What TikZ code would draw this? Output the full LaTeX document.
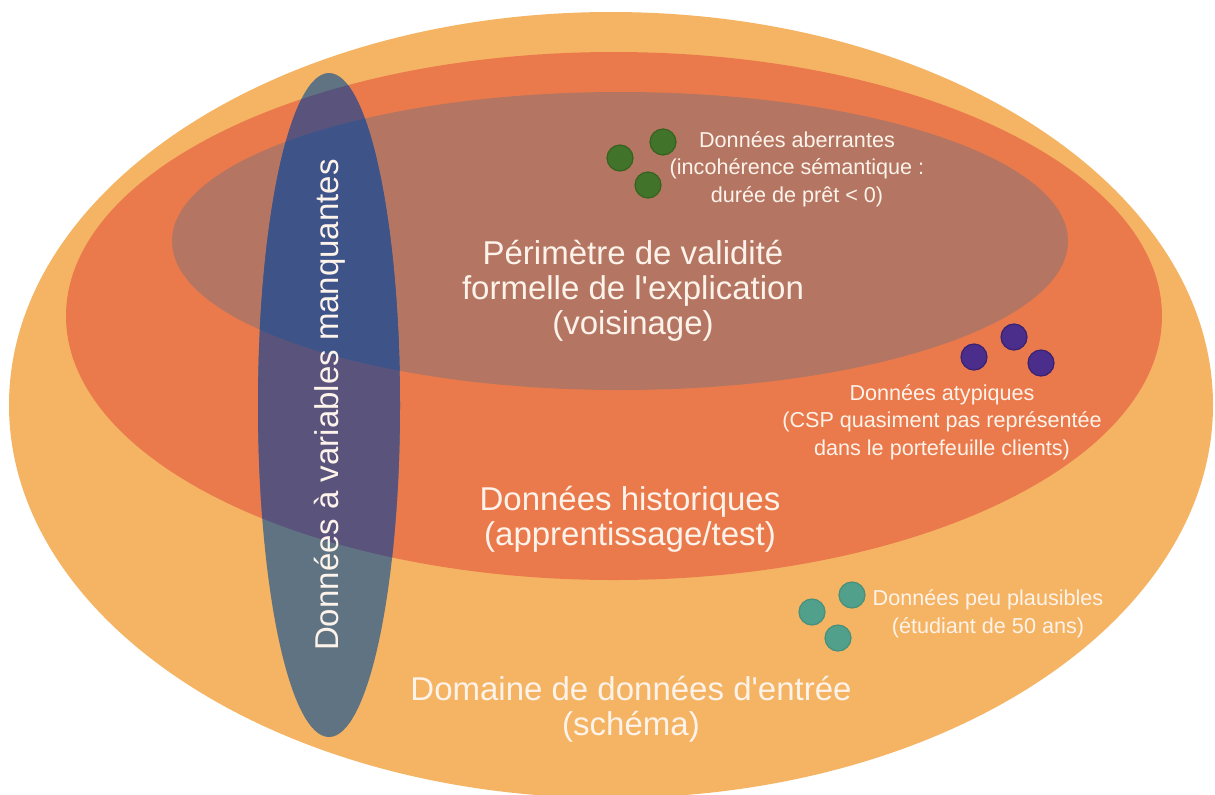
\documentclass[tikz,border=0pt]{standalone}
\usepackage{fontspec}
\setmainfont{Liberation Sans}[Ligatures=TeXOff]
\definecolor{lorange}{HTML}{F5B463}
\definecolor{orng}{HTML}{EA7A4C}
\definecolor{brwn}{HTML}{B47662}
\definecolor{blueA}{HTML}{5F7382}
\definecolor{blueB}{HTML}{5A547D}
\definecolor{blueC}{HTML}{3E5488}
\definecolor{txt}{HTML}{FDF3EA}
\definecolor{dgreen}{HTML}{41742A}
\definecolor{dgreenD}{HTML}{36621F}
\definecolor{dpurple}{HTML}{4B2D8C}
\definecolor{dpurpleD}{HTML}{3A2270}
\definecolor{dteal}{HTML}{50A08C}
\definecolor{dtealD}{HTML}{46907C}
\begin{document}
\begin{tikzpicture}[x=0.5pt,y=-0.5pt,
  lbl/.style={text=txt, align=center, inner sep=0pt},
  big/.style={lbl, font=\fontsize{16.5}{17.5}\selectfont},
  small/.style={lbl, font=\fontsize{10.8}{13.75}\selectfont},
  dot/.style={circle, inner sep=0pt, minimum size=13pt, line width=0.6pt},
  dotg/.style={dot, fill=dgreen, draw=dgreenD},
  dotp/.style={dot, fill=dpurple, draw=dpurpleD},
  dott/.style={dot, fill=dteal, draw=dtealD},
  outerE/.style={x radius=301pt, y radius=196.5pt},
  histE/.style={x radius=274pt, y radius=132pt},
  validE/.style={x radius=224pt, y radius=74.5pt},
  manqE/.style={x radius=35.5pt, y radius=166pt}]
\useasboundingbox (0,0) rectangle (1215,794);
\coordinate (cO) at (611,405);
\coordinate (cH) at (614,316);
\coordinate (cV) at (620,241);
\coordinate (cM) at (329,405);
\fill[lorange] (cO) ellipse [outerE];
\fill[orng] (cH) ellipse [histE];
\fill[brwn] (cV) ellipse [validE];
\fill[blueA] (cM) ellipse [manqE];
\begin{scope}
  \clip (cM) ellipse [manqE];
  \fill[blueB] (cH) ellipse [histE];
  \fill[blueC] (cV) ellipse [validE];
\end{scope}
% dots
\node[dotg] (g1) at (620,158) {};
\node[dotg] (g2) at (663,142) {};
\node[dotg] (g3) at (648,185) {};
\node[dotp] (p1) at (974,357) {};
\node[dotp] (p2) at (1014,337) {};
\node[dotp] (p3) at (1041,363) {};
\node[dott] (t1) at (812,612) {};
\node[dott] (t2) at (852,595) {};
\node[dott] (t3) at (838,638) {};
% labels
\node[small] (aber) at (797,169) {Données aberrantes\\(incohérence sémantique :\\durée de prêt < 0)};
\node[small] (atyp) at (942,422) {Données atypiques\\(CSP quasiment pas représentée\\dans le portefeuille clients)};
\node[small] (peu) at (988,614) {Données peu plausibles\\(étudiant de 50 ans)};
\node[big] (valid) at (633,291) {Périmètre de validité\\formelle de l'explication\\(voisinage)};
\node[big] (hist) at (630,519) {Données historiques\\(apprentissage/test)};
\node[big] (dom) at (631,709) {Domaine de données d'entrée\\(schéma)};
\node[big, rotate=90] (manq) at (330,405) {Données à variables manquantes};
\end{tikzpicture}
\end{document}
